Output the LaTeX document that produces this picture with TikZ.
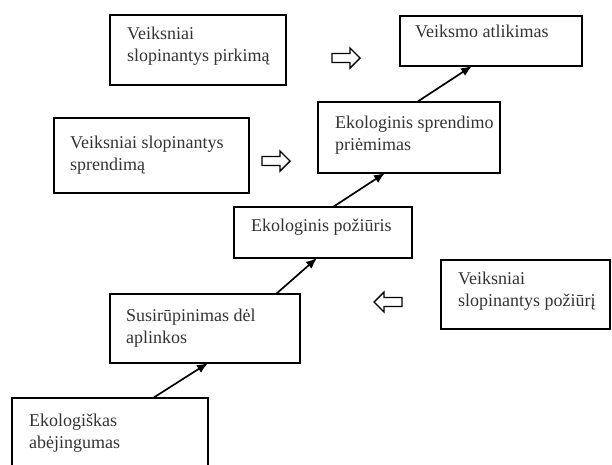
\documentclass[tikz,border=0pt]{standalone}
\usepackage{fontspec}
\setmainfont{Liberation Serif}
\usetikzlibrary{arrows.meta}
\begin{document}
\begin{tikzpicture}[x=1pt,y=-1pt,
  box/.style={draw=black, line width=1.6pt, rectangle, anchor=north west, inner sep=0pt, outer sep=0pt},
  lbl/.style={anchor=north west, inner sep=0pt, align=left, text=black!80,
    font=\fontsize{18}{21.5}\selectfont},
  link/.style={line width=1.7pt, -{Latex[length=11pt,width=9pt]}},
  hollow/.style={draw=black, line width=1.4pt, fill=white, line join=miter}]
\useasboundingbox (0,0) rectangle (612,464);
\clip (0,0) rectangle (612,464);

% main chain of stages
\node[box, minimum width=196pt, minimum height=90pt] (b1) at (12,398) {};
\node[box, minimum width=190pt, minimum height=69pt] (b2) at (110,294) {};
\node[box, minimum width=178pt, minimum height=51pt] (b3) at (234,207) {};
\node[box, minimum width=182pt, minimum height=71pt] (b4) at (318,102) {};
\node[box, minimum width=182pt, minimum height=50pt] (b5) at (400,16) {};

% inhibiting factors
\node[box, minimum width=176pt, minimum height=70pt] (fa) at (110,15) {};
\node[box, minimum width=195pt, minimum height=75pt] (fb) at (54,118) {};
\node[box, minimum width=169pt, minimum height=69pt] (fc) at (441,260) {};

% labels
\node[lbl] (t1) at (29,414) {Ekologiškas\\abėjingumas};
\node[lbl] (t2) at (126,309) {Susirūpinimas dėl\\aplinkos};
\node[lbl] (t3) at (251,219) {Ekologinis požiūris};
\node[lbl] (t4) at (335,116) {Ekologinis sprendimo\\priėmimas};
\node[lbl] (t5) at (415,25) {Veiksmo atlikimas};
\node[lbl] (ta) at (127,27) {Veiksniai\\slopinantys pirkimą};
\node[lbl] (tb) at (70,136) {Veiksniai slopinantys\\sprendimą};
\node[lbl] (tc) at (458,272) {Veiksniai\\slopinantys požiūrį};

% connectors between stages
\draw[link] ([xshift=141pt]b1.north west) -- ([xshift=98pt]b2.south west);
\draw[link] ([xshift=166pt]b2.north west) -- ([xshift=83pt]b3.south west);
\draw[link] ([xshift=99pt]b3.north west) -- ([xshift=67pt]b4.south west);
\draw[link] ([xshift=99pt]b4.north west) -- ([xshift=72pt]b5.south west);

% hollow block arrows
\coordinate (h1) at (346,58);
\coordinate (h2) at (276,161);
\coordinate (h3) at (388,302);
\draw[hollow, shift={(h1)}] (-14,-4.5) -- (4,-4.5) -- (4,-10) -- (14,0) -- (4,10) -- (4,4.5) -- (-14,4.5) -- cycle;
\draw[hollow, shift={(h2)}] (-14,-4.5) -- (4,-4.5) -- (4,-10) -- (14,0) -- (4,10) -- (4,4.5) -- (-14,4.5) -- cycle;
\draw[hollow, shift={(h3)}] (14,-4.5) -- (-4,-4.5) -- (-4,-10) -- (-14,0) -- (-4,10) -- (-4,4.5) -- (14,4.5) -- cycle;
\end{tikzpicture}
\end{document}
